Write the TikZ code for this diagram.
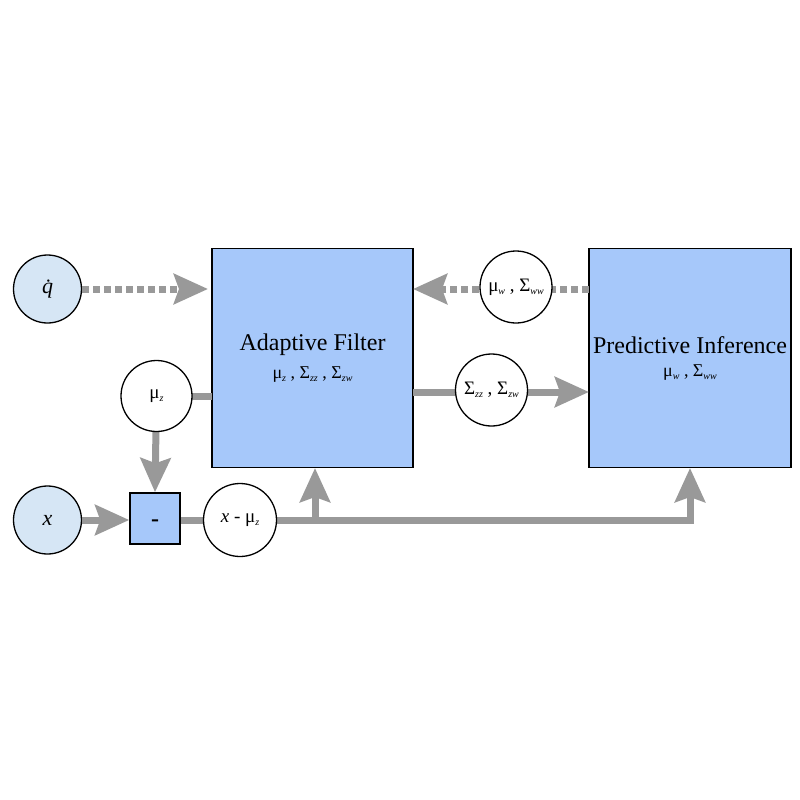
\documentclass[tikz,border=0pt]{standalone}
\usepackage{fontspec}
\setmainfont{Liberation Serif}
\usetikzlibrary{arrows.meta}
\definecolor{conn}{HTML}{999999}
\definecolor{boxfill}{HTML}{A6C8FA}
\definecolor{infill}{HTML}{D6E6F5}
\newcommand{\sbs}[1]{\raisebox{-3pt}{\fontsize{10}{11}\selectfont\textit{#1}}}
\tikzset{
  x=1pt, y=-1pt,
  blockbox/.style={draw=black, line width=1.5pt, fill=boxfill, inner sep=0pt, align=center},
  incircle/.style={circle, draw=black, line width=1.3pt, fill=infill, minimum size=68pt, inner sep=0pt, font=\fontsize{22}{24}\selectfont},
  lblcircle/.style={circle, draw=black, line width=1.3pt, fill=white, minimum size=72pt, inner sep=0pt, font=\fontsize{19}{21}\selectfont},
  conline/.style={draw=conn, line width=7pt},
  conarrow/.style={draw=conn, line width=7pt, -{Stealth[length=34pt, width=30pt, inset=5pt]}},
  dashline/.style={dash pattern=on 7pt off 4pt}
}
\begin{document}
\begin{tikzpicture}
\useasboundingbox (0,0) rectangle (800,800);
% nodes
\node[blockbox, minimum width=201pt, minimum height=219pt] (af) at (312.5,358)
  {\fontsize{24}{26}\selectfont Adaptive Filter\\[10pt]
   \fontsize{18}{18}\selectfont μ\sbs{z} , Σ\sbs{zz} , Σ\sbs{zw}};
\node[blockbox, minimum width=202pt, minimum height=219pt] (pi) at (690,358)
  {\fontsize{24}{26}\selectfont Predictive Inference\\[10pt]
   \fontsize{18}{18}\selectfont μ\sbs{w} , Σ\sbs{ww}};
\node[incircle] (q) at (47.5,289) {\itshape \.{q}};
\node[incircle] (x) at (47.5,520) {\itshape x};
\node[blockbox, minimum width=50pt, minimum height=51pt, text height=16pt, text depth=0pt] (minus) at (155,518.5) {\fontsize{24}{24}\selectfont\bfseries -};
\coordinate (afq) at (212,289);
\coordinate (afr) at (413,289);
\coordinate (pil) at (589,289);
\coordinate (afs) at (413,392);
\coordinate (pis) at (589,392);
\coordinate (afm) at (212,396);
\coordinate (br) at (315,520);
\coordinate (afb) at (315,468);
\coordinate (cr) at (690,520);
\coordinate (pib) at (690,468);
% connectors (behind label circles)
\draw[conarrow, dashline, shorten >=4pt] (q) -- (afq);
\draw[conarrow, dashline] (pil) -- (afr);
\draw[conarrow] (afs) -- (pis);
\draw[conline] (afm) -- (156.5,396);
\draw[conarrow] (156.5,396) -- (minus.north);
\draw[conarrow] (x) -- (minus.west |- x);
\draw[conline] (minus.east |- br) -- (cr) -- ++(0,-7);
\draw[conarrow] (cr) -- (pib);
\draw[conarrow] (br) -- (afb);
% label circles
\node[lblcircle] (mw) at (516,287) {μ\sbs{w} , Σ\sbs{ww}};
\node[lblcircle] (szz) at (491.5,390) {Σ\sbs{zz} , Σ\sbs{zw}};
\node[lblcircle, minimum size=71pt] (mz) at (156.5,396) {μ\sbs{z}};
\node[lblcircle, minimum size=73pt] (xmz) at (240,520) {\textit{x} - μ\sbs{z}};
\end{tikzpicture}
\end{document}
